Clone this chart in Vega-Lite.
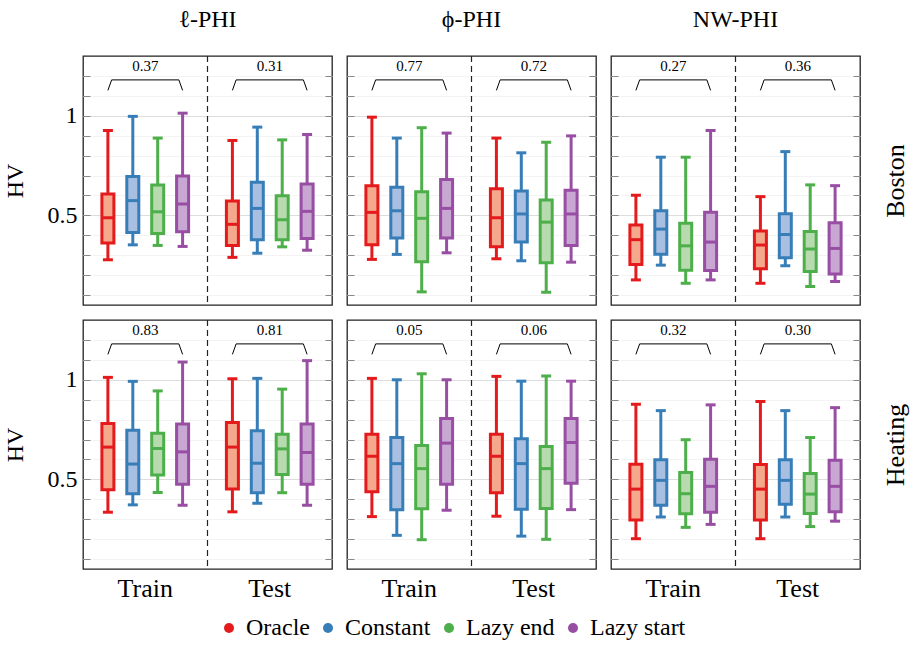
{
"$schema": "https://vega.github.io/schema/vega-lite/v6.json",
"background": "white",
"padding": {"left": 2, "top": 7, "right": 5, "bottom": 5},
"datasets": {
"boxes": [
{"ds":"Boston","m":"l","s":"Train","a":"Oracle","lo":0.277,"q1":0.361,"md":0.488,"q3":0.607,"hi":0.926},
{"ds":"Boston","m":"l","s":"Train","a":"Constant","lo":0.352,"q1":0.414,"md":0.574,"q3":0.695,"hi":0.997},
{"ds":"Boston","m":"l","s":"Train","a":"Lazy end","lo":0.349,"q1":0.409,"md":0.518,"q3":0.653,"hi":0.888},
{"ds":"Boston","m":"l","s":"Train","a":"Lazy start","lo":0.344,"q1":0.418,"md":0.557,"q3":0.698,"hi":1.013},
{"ds":"Boston","m":"l","s":"Test","a":"Oracle","lo":0.289,"q1":0.349,"md":0.455,"q3":0.572,"hi":0.876},
{"ds":"Boston","m":"l","s":"Test","a":"Constant","lo":0.31,"q1":0.378,"md":0.535,"q3":0.666,"hi":0.943},
{"ds":"Boston","m":"l","s":"Test","a":"Lazy end","lo":0.342,"q1":0.378,"md":0.478,"q3":0.599,"hi":0.879},
{"ds":"Boston","m":"l","s":"Test","a":"Lazy start","lo":0.325,"q1":0.384,"md":0.52,"q3":0.658,"hi":0.906},
{"ds":"Boston","m":"p","s":"Train","a":"Oracle","lo":0.279,"q1":0.352,"md":0.515,"q3":0.649,"hi":0.993},
{"ds":"Boston","m":"p","s":"Train","a":"Constant","lo":0.304,"q1":0.386,"md":0.523,"q3":0.641,"hi":0.888},
{"ds":"Boston","m":"p","s":"Train","a":"Lazy end","lo":0.116,"q1":0.267,"md":0.485,"q3":0.619,"hi":0.94},
{"ds":"Boston","m":"p","s":"Train","a":"Lazy start","lo":0.312,"q1":0.386,"md":0.535,"q3":0.68,"hi":0.913},
{"ds":"Boston","m":"p","s":"Test","a":"Oracle","lo":0.282,"q1":0.342,"md":0.488,"q3":0.633,"hi":0.888},
{"ds":"Boston","m":"p","s":"Test","a":"Constant","lo":0.272,"q1":0.366,"md":0.507,"q3":0.622,"hi":0.814},
{"ds":"Boston","m":"p","s":"Test","a":"Lazy end","lo":0.114,"q1":0.262,"md":0.466,"q3":0.577,"hi":0.867},
{"ds":"Boston","m":"p","s":"Test","a":"Lazy start","lo":0.265,"q1":0.349,"md":0.507,"q3":0.626,"hi":0.899},
{"ds":"Boston","m":"n","s":"Train","a":"Oracle","lo":0.176,"q1":0.253,"md":0.378,"q3":0.451,"hi":0.601},
{"ds":"Boston","m":"n","s":"Train","a":"Constant","lo":0.25,"q1":0.305,"md":0.431,"q3":0.523,"hi":0.792},
{"ds":"Boston","m":"n","s":"Train","a":"Lazy end","lo":0.159,"q1":0.225,"md":0.347,"q3":0.46,"hi":0.792},
{"ds":"Boston","m":"n","s":"Train","a":"Lazy start","lo":0.176,"q1":0.223,"md":0.366,"q3":0.515,"hi":0.926},
{"ds":"Boston","m":"n","s":"Test","a":"Oracle","lo":0.159,"q1":0.232,"md":0.351,"q3":0.421,"hi":0.594},
{"ds":"Boston","m":"n","s":"Test","a":"Constant","lo":0.247,"q1":0.287,"md":0.404,"q3":0.508,"hi":0.82},
{"ds":"Boston","m":"n","s":"Test","a":"Lazy end","lo":0.143,"q1":0.218,"md":0.331,"q3":0.419,"hi":0.653},
{"ds":"Boston","m":"n","s":"Test","a":"Lazy start","lo":0.168,"q1":0.205,"md":0.334,"q3":0.463,"hi":0.649},
{"ds":"Heating","m":"l","s":"Train","a":"Oracle","lo":0.335,"q1":0.448,"md":0.662,"q3":0.781,"hi":1.012},
{"ds":"Heating","m":"l","s":"Train","a":"Constant","lo":0.372,"q1":0.428,"md":0.577,"q3":0.746,"hi":0.992},
{"ds":"Heating","m":"l","s":"Train","a":"Lazy end","lo":0.434,"q1":0.522,"md":0.655,"q3":0.732,"hi":0.944},
{"ds":"Heating","m":"l","s":"Train","a":"Lazy start","lo":0.37,"q1":0.475,"md":0.638,"q3":0.778,"hi":1.089},
{"ds":"Heating","m":"l","s":"Test","a":"Oracle","lo":0.337,"q1":0.451,"md":0.662,"q3":0.785,"hi":1.005},
{"ds":"Heating","m":"l","s":"Test","a":"Constant","lo":0.38,"q1":0.433,"md":0.581,"q3":0.744,"hi":1.007},
{"ds":"Heating","m":"l","s":"Test","a":"Lazy end","lo":0.433,"q1":0.524,"md":0.653,"q3":0.727,"hi":0.953},
{"ds":"Heating","m":"l","s":"Test","a":"Lazy start","lo":0.37,"q1":0.475,"md":0.635,"q3":0.778,"hi":1.096},
{"ds":"Heating","m":"p","s":"Train","a":"Oracle","lo":0.313,"q1":0.438,"md":0.616,"q3":0.727,"hi":1.007},
{"ds":"Heating","m":"p","s":"Train","a":"Constant","lo":0.219,"q1":0.348,"md":0.579,"q3":0.71,"hi":1.0},
{"ds":"Heating","m":"p","s":"Train","a":"Lazy end","lo":0.197,"q1":0.352,"md":0.554,"q3":0.67,"hi":1.03},
{"ds":"Heating","m":"p","s":"Train","a":"Lazy start","lo":0.345,"q1":0.475,"md":0.682,"q3":0.806,"hi":1.0},
{"ds":"Heating","m":"p","s":"Test","a":"Oracle","lo":0.315,"q1":0.433,"md":0.616,"q3":0.727,"hi":1.017},
{"ds":"Heating","m":"p","s":"Test","a":"Constant","lo":0.215,"q1":0.35,"md":0.579,"q3":0.704,"hi":0.993},
{"ds":"Heating","m":"p","s":"Test","a":"Lazy end","lo":0.199,"q1":0.354,"md":0.554,"q3":0.665,"hi":1.019},
{"ds":"Heating","m":"p","s":"Test","a":"Lazy start","lo":0.348,"q1":0.481,"md":0.685,"q3":0.806,"hi":0.993},
{"ds":"Heating","m":"n","s":"Train","a":"Oracle","lo":0.202,"q1":0.296,"md":0.451,"q3":0.576,"hi":0.877},
{"ds":"Heating","m":"n","s":"Train","a":"Constant","lo":0.311,"q1":0.37,"md":0.495,"q3":0.598,"hi":0.845},
{"ds":"Heating","m":"n","s":"Train","a":"Lazy end","lo":0.259,"q1":0.327,"md":0.428,"q3":0.534,"hi":0.699},
{"ds":"Heating","m":"n","s":"Train","a":"Lazy start","lo":0.274,"q1":0.335,"md":0.465,"q3":0.601,"hi":0.874},
{"ds":"Heating","m":"n","s":"Test","a":"Oracle","lo":0.202,"q1":0.296,"md":0.451,"q3":0.574,"hi":0.891},
{"ds":"Heating","m":"n","s":"Test","a":"Constant","lo":0.311,"q1":0.375,"md":0.495,"q3":0.598,"hi":0.845},
{"ds":"Heating","m":"n","s":"Test","a":"Lazy end","lo":0.263,"q1":0.328,"md":0.426,"q3":0.53,"hi":0.71},
{"ds":"Heating","m":"n","s":"Test","a":"Lazy start","lo":0.29,"q1":0.338,"md":0.465,"q3":0.596,"hi":0.86}
],
"pvals": [
{"ds":"Boston","m":"l","s":"Train","p":"0.37"},
{"ds":"Boston","m":"l","s":"Test","p":"0.31"},
{"ds":"Boston","m":"p","s":"Train","p":"0.77"},
{"ds":"Boston","m":"p","s":"Test","p":"0.72"},
{"ds":"Boston","m":"n","s":"Train","p":"0.27"},
{"ds":"Boston","m":"n","s":"Test","p":"0.36"},
{"ds":"Heating","m":"l","s":"Train","p":"0.83"},
{"ds":"Heating","m":"l","s":"Test","p":"0.81"},
{"ds":"Heating","m":"p","s":"Train","p":"0.05"},
{"ds":"Heating","m":"p","s":"Test","p":"0.06"},
{"ds":"Heating","m":"n","s":"Train","p":"0.32"},
{"ds":"Heating","m":"n","s":"Test","p":"0.30"}
]
},
"columns": 3,
"bounds": "flush",
"spacing": {"row": 15, "column": 15},
"concat": [
{
"width": 249, "height": 249, "title": "ℓ-PHI",
"data": {"name": "boxes"},
"transform": [{"filter": "datum.ds=='Boston' && datum.m=='l'"}],
"layer": [
{"mark": {"type": "tick", "thickness": 3, "size": 10, "opacity": 1},
 "encoding": {
  "x": {"field": "s", "type": "nominal", "scale": {"domain": ["Train","Test"], "paddingInner": 0, "paddingOuter": 0}, "title": null, "axis": null},
  "xOffset": {"field": "a", "type": "nominal", "scale": {"domain": ["Oracle","Constant","Lazy end","Lazy start"], "paddingInner": 0, "paddingOuter": 0.5}},
  "y": {"field": "lo", "type": "quantitative", "scale": {"domain": [0.05,1.3], "nice": false, "zero": false},
        "axis": {"title": "HV", "values": [0.1,0.2,0.3,0.4,0.5,0.6,0.7,0.8,0.9,1,1.1,1.2], "labelExpr": "datum.value == 1 ? '1' : datum.value == 0.5 ? '0.5' : ''", "grid": true, "gridColor": {"condition": {"test": "datum.value == 1 || datum.value == 0.5", "value": "#dddddd"}, "value": "#f3f3f3"}, "labelPadding": 13, "titlePadding": 20}},
  "color": {"field": "a", "type": "nominal", "scale": {"domain": ["Oracle","Constant","Lazy end","Lazy start"], "range": ["#e41a1c","#377eb8","#4daf4a","#984ea3"]}, "title": null, "legend": {"symbolType": "circle", "labelFont": "Liberation Serif", "orient": "none", "direction": "horizontal", "legendX": 134, "legendY": 560}}}},
{"mark": {"type": "tick", "thickness": 3, "size": 10, "opacity": 1},
 "encoding": {
  "x": {"field": "s", "type": "nominal", "scale": {"domain": ["Train","Test"], "paddingInner": 0, "paddingOuter": 0}, "title": null, "axis": null},
  "xOffset": {"field": "a", "type": "nominal", "scale": {"domain": ["Oracle","Constant","Lazy end","Lazy start"], "paddingInner": 0, "paddingOuter": 0.5}},
  "y": {"field": "hi", "type": "quantitative", "scale": {"domain": [0.05,1.3], "nice": false, "zero": false},
        "axis": {"orient": "right", "title": null, "labels": false, "grid": false, "values": [0.1,0.2,0.3,0.4,0.5,0.6,0.7,0.8,0.9,1,1.1,1.2]}},
  "color": {"field": "a", "type": "nominal", "scale": {"domain": ["Oracle","Constant","Lazy end","Lazy start"], "range": ["#e41a1c","#377eb8","#4daf4a","#984ea3"]}, "title": null, "legend": {"symbolType": "circle", "labelFont": "Liberation Serif", "orient": "none", "direction": "horizontal", "legendX": 134, "legendY": 560}}}},
{"mark": {"type": "rule", "strokeWidth": 3},
 "encoding": {
  "x": {"field": "s", "type": "nominal", "scale": {"domain": ["Train","Test"], "paddingInner": 0, "paddingOuter": 0}, "title": null, "axis": null},
  "xOffset": {"field": "a", "type": "nominal", "scale": {"domain": ["Oracle","Constant","Lazy end","Lazy start"], "paddingInner": 0, "paddingOuter": 0.5}},
  "y": {"field": "lo", "type": "quantitative", "scale": {"domain": [0.05,1.3], "nice": false, "zero": false}, "axis": null},
  "y2": {"field": "hi"},
  "stroke": {"field": "a", "type": "nominal", "scale": {"domain": ["Oracle","Constant","Lazy end","Lazy start"], "range": ["#e41a1c","#377eb8","#4daf4a","#984ea3"]}, "legend": null}}},
{"mark": {"type": "bar", "width": 12, "strokeWidth": 3},
 "encoding": {
  "x": {"field": "s", "type": "nominal", "scale": {"domain": ["Train","Test"], "paddingInner": 0, "paddingOuter": 0}, "title": null, "axis": null},
  "xOffset": {"field": "a", "type": "nominal", "scale": {"domain": ["Oracle","Constant","Lazy end","Lazy start"], "paddingInner": 0, "paddingOuter": 0.5}},
  "y": {"field": "q1", "type": "quantitative", "scale": {"domain": [0.05,1.3], "nice": false, "zero": false}, "axis": null},
  "y2": {"field": "q3"},
  "fill": {"field": "a", "type": "nominal", "scale": {"domain": ["Oracle","Constant","Lazy end","Lazy start"], "range": ["#f4a88c","#a9bfe1","#b7dbae","#c8a7d3"]}, "legend": null},
  "stroke": {"field": "a", "type": "nominal", "scale": {"domain": ["Oracle","Constant","Lazy end","Lazy start"], "range": ["#e41a1c","#377eb8","#4daf4a","#984ea3"]}, "legend": null}}},
{"mark": {"type": "tick", "thickness": 3, "size": 12, "opacity": 1},
 "encoding": {
  "x": {"field": "s", "type": "nominal", "scale": {"domain": ["Train","Test"], "paddingInner": 0, "paddingOuter": 0}, "title": null, "axis": null},
  "xOffset": {"field": "a", "type": "nominal", "scale": {"domain": ["Oracle","Constant","Lazy end","Lazy start"], "paddingInner": 0, "paddingOuter": 0.5}},
  "y": {"field": "md", "type": "quantitative", "scale": {"domain": [0.05,1.3], "nice": false, "zero": false}, "axis": null},
  "color": {"field": "a", "type": "nominal", "scale": {"domain": ["Oracle","Constant","Lazy end","Lazy start"], "range": ["#e41a1c","#377eb8","#4daf4a","#984ea3"]}, "title": null, "legend": {"symbolType": "circle", "labelFont": "Liberation Serif", "orient": "none", "direction": "horizontal", "legendX": 134, "legendY": 560}}}},
{"data": {"values": [{}]},
 "mark": {"type": "rule", "strokeDash": [6,4], "color": "#222222", "strokeWidth": 1.2},
 "encoding": {"x": {"datum": "Test", "type": "nominal", "bandPosition": 0, "scale": {"domain": ["Train","Test"], "paddingInner": 0, "paddingOuter": 0}, "title": null, "axis": null}}},
{"data": {"name": "pvals"},
 "transform": [{"filter": "datum.ds=='Boston' && datum.m=='l'"}],
 "mark": {"type": "point", "shape": "M -1 0.28 L -0.9 0 L 0.9 0 L 1 0.28", "size": 5580, "filled": false, "stroke": "#000000", "strokeWidth": 1, "opacity": 1},
 "encoding": {
  "x": {"field": "s", "type": "nominal", "scale": {"domain": ["Train","Test"], "paddingInner": 0, "paddingOuter": 0}, "title": null, "axis": null},
  "y": {"datum": 1.18, "type": "quantitative", "scale": {"domain": [0.05,1.3], "nice": false, "zero": false}, "axis": null}}},
{"data": {"name": "pvals"},
 "transform": [{"filter": "datum.ds=='Boston' && datum.m=='l'"}],
 "mark": {"type": "text", "font": "Liberation Serif", "fontSize": 15, "baseline": "middle", "color": "#000000"},
 "encoding": {
  "x": {"field": "s", "type": "nominal", "scale": {"domain": ["Train","Test"], "paddingInner": 0, "paddingOuter": 0}, "title": null, "axis": null},
  "y": {"datum": 1.25, "type": "quantitative", "scale": {"domain": [0.05,1.3], "nice": false, "zero": false}, "axis": null},
  "text": {"field": "p", "type": "nominal"}}}
],
"resolve": {"axis": {"y": "independent"}}
},
{
"width": 249, "height": 249, "title": "ϕ-PHI",
"data": {"name": "boxes"},
"transform": [{"filter": "datum.ds=='Boston' && datum.m=='p'"}],
"layer": [
{"mark": {"type": "tick", "thickness": 3, "size": 10, "opacity": 1},
 "encoding": {
  "x": {"field": "s", "type": "nominal", "scale": {"domain": ["Train","Test"], "paddingInner": 0, "paddingOuter": 0}, "title": null, "axis": null},
  "xOffset": {"field": "a", "type": "nominal", "scale": {"domain": ["Oracle","Constant","Lazy end","Lazy start"], "paddingInner": 0, "paddingOuter": 0.5}},
  "y": {"field": "lo", "type": "quantitative", "scale": {"domain": [0.05,1.3], "nice": false, "zero": false},
        "axis": {"title": null, "labels": false, "values": [0.1,0.2,0.3,0.4,0.5,0.6,0.7,0.8,0.9,1,1.1,1.2], "grid": true, "gridColor": {"condition": {"test": "datum.value == 1 || datum.value == 0.5", "value": "#dddddd"}, "value": "#f3f3f3"}}},
  "color": {"field": "a", "type": "nominal", "scale": {"domain": ["Oracle","Constant","Lazy end","Lazy start"], "range": ["#e41a1c","#377eb8","#4daf4a","#984ea3"]}, "title": null, "legend": {"symbolType": "circle", "labelFont": "Liberation Serif", "orient": "none", "direction": "horizontal", "legendX": 134, "legendY": 560}}}},
{"mark": {"type": "tick", "thickness": 3, "size": 10, "opacity": 1},
 "encoding": {
  "x": {"field": "s", "type": "nominal", "scale": {"domain": ["Train","Test"], "paddingInner": 0, "paddingOuter": 0}, "title": null, "axis": null},
  "xOffset": {"field": "a", "type": "nominal", "scale": {"domain": ["Oracle","Constant","Lazy end","Lazy start"], "paddingInner": 0, "paddingOuter": 0.5}},
  "y": {"field": "hi", "type": "quantitative", "scale": {"domain": [0.05,1.3], "nice": false, "zero": false},
        "axis": {"orient": "right", "title": null, "labels": false, "grid": false, "values": [0.1,0.2,0.3,0.4,0.5,0.6,0.7,0.8,0.9,1,1.1,1.2]}},
  "color": {"field": "a", "type": "nominal", "scale": {"domain": ["Oracle","Constant","Lazy end","Lazy start"], "range": ["#e41a1c","#377eb8","#4daf4a","#984ea3"]}, "title": null, "legend": {"symbolType": "circle", "labelFont": "Liberation Serif", "orient": "none", "direction": "horizontal", "legendX": 134, "legendY": 560}}}},
{"mark": {"type": "rule", "strokeWidth": 3},
 "encoding": {
  "x": {"field": "s", "type": "nominal", "scale": {"domain": ["Train","Test"], "paddingInner": 0, "paddingOuter": 0}, "title": null, "axis": null},
  "xOffset": {"field": "a", "type": "nominal", "scale": {"domain": ["Oracle","Constant","Lazy end","Lazy start"], "paddingInner": 0, "paddingOuter": 0.5}},
  "y": {"field": "lo", "type": "quantitative", "scale": {"domain": [0.05,1.3], "nice": false, "zero": false}, "axis": null},
  "y2": {"field": "hi"},
  "stroke": {"field": "a", "type": "nominal", "scale": {"domain": ["Oracle","Constant","Lazy end","Lazy start"], "range": ["#e41a1c","#377eb8","#4daf4a","#984ea3"]}, "legend": null}}},
{"mark": {"type": "bar", "width": 12, "strokeWidth": 3},
 "encoding": {
  "x": {"field": "s", "type": "nominal", "scale": {"domain": ["Train","Test"], "paddingInner": 0, "paddingOuter": 0}, "title": null, "axis": null},
  "xOffset": {"field": "a", "type": "nominal", "scale": {"domain": ["Oracle","Constant","Lazy end","Lazy start"], "paddingInner": 0, "paddingOuter": 0.5}},
  "y": {"field": "q1", "type": "quantitative", "scale": {"domain": [0.05,1.3], "nice": false, "zero": false}, "axis": null},
  "y2": {"field": "q3"},
  "fill": {"field": "a", "type": "nominal", "scale": {"domain": ["Oracle","Constant","Lazy end","Lazy start"], "range": ["#f4a88c","#a9bfe1","#b7dbae","#c8a7d3"]}, "legend": null},
  "stroke": {"field": "a", "type": "nominal", "scale": {"domain": ["Oracle","Constant","Lazy end","Lazy start"], "range": ["#e41a1c","#377eb8","#4daf4a","#984ea3"]}, "legend": null}}},
{"mark": {"type": "tick", "thickness": 3, "size": 12, "opacity": 1},
 "encoding": {
  "x": {"field": "s", "type": "nominal", "scale": {"domain": ["Train","Test"], "paddingInner": 0, "paddingOuter": 0}, "title": null, "axis": null},
  "xOffset": {"field": "a", "type": "nominal", "scale": {"domain": ["Oracle","Constant","Lazy end","Lazy start"], "paddingInner": 0, "paddingOuter": 0.5}},
  "y": {"field": "md", "type": "quantitative", "scale": {"domain": [0.05,1.3], "nice": false, "zero": false}, "axis": null},
  "color": {"field": "a", "type": "nominal", "scale": {"domain": ["Oracle","Constant","Lazy end","Lazy start"], "range": ["#e41a1c","#377eb8","#4daf4a","#984ea3"]}, "title": null, "legend": {"symbolType": "circle", "labelFont": "Liberation Serif", "orient": "none", "direction": "horizontal", "legendX": 134, "legendY": 560}}}},
{"data": {"values": [{}]},
 "mark": {"type": "rule", "strokeDash": [6,4], "color": "#222222", "strokeWidth": 1.2},
 "encoding": {"x": {"datum": "Test", "type": "nominal", "bandPosition": 0, "scale": {"domain": ["Train","Test"], "paddingInner": 0, "paddingOuter": 0}, "title": null, "axis": null}}},
{"data": {"name": "pvals"},
 "transform": [{"filter": "datum.ds=='Boston' && datum.m=='p'"}],
 "mark": {"type": "point", "shape": "M -1 0.28 L -0.9 0 L 0.9 0 L 1 0.28", "size": 5580, "filled": false, "stroke": "#000000", "strokeWidth": 1, "opacity": 1},
 "encoding": {
  "x": {"field": "s", "type": "nominal", "scale": {"domain": ["Train","Test"], "paddingInner": 0, "paddingOuter": 0}, "title": null, "axis": null},
  "y": {"datum": 1.18, "type": "quantitative", "scale": {"domain": [0.05,1.3], "nice": false, "zero": false}, "axis": null}}},
{"data": {"name": "pvals"},
 "transform": [{"filter": "datum.ds=='Boston' && datum.m=='p'"}],
 "mark": {"type": "text", "font": "Liberation Serif", "fontSize": 15, "baseline": "middle", "color": "#000000"},
 "encoding": {
  "x": {"field": "s", "type": "nominal", "scale": {"domain": ["Train","Test"], "paddingInner": 0, "paddingOuter": 0}, "title": null, "axis": null},
  "y": {"datum": 1.25, "type": "quantitative", "scale": {"domain": [0.05,1.3], "nice": false, "zero": false}, "axis": null},
  "text": {"field": "p", "type": "nominal"}}}
],
"resolve": {"axis": {"y": "independent"}}
},
{
"width": 249, "height": 249, "title": "NW-PHI",
"data": {"name": "boxes"},
"transform": [{"filter": "datum.ds=='Boston' && datum.m=='n'"}],
"layer": [
{"mark": {"type": "tick", "thickness": 3, "size": 10, "opacity": 1},
 "encoding": {
  "x": {"field": "s", "type": "nominal", "scale": {"domain": ["Train","Test"], "paddingInner": 0, "paddingOuter": 0}, "title": null, "axis": null},
  "xOffset": {"field": "a", "type": "nominal", "scale": {"domain": ["Oracle","Constant","Lazy end","Lazy start"], "paddingInner": 0, "paddingOuter": 0.5}},
  "y": {"field": "lo", "type": "quantitative", "scale": {"domain": [0.05,1.3], "nice": false, "zero": false},
        "axis": {"title": null, "labels": false, "values": [0.1,0.2,0.3,0.4,0.5,0.6,0.7,0.8,0.9,1,1.1,1.2], "grid": true, "gridColor": {"condition": {"test": "datum.value == 1 || datum.value == 0.5", "value": "#dddddd"}, "value": "#f3f3f3"}}},
  "color": {"field": "a", "type": "nominal", "scale": {"domain": ["Oracle","Constant","Lazy end","Lazy start"], "range": ["#e41a1c","#377eb8","#4daf4a","#984ea3"]}, "title": null, "legend": {"symbolType": "circle", "labelFont": "Liberation Serif", "orient": "none", "direction": "horizontal", "legendX": 134, "legendY": 560}}}},
{"mark": {"type": "tick", "thickness": 3, "size": 10, "opacity": 1},
 "encoding": {
  "x": {"field": "s", "type": "nominal", "scale": {"domain": ["Train","Test"], "paddingInner": 0, "paddingOuter": 0}, "title": null, "axis": null},
  "xOffset": {"field": "a", "type": "nominal", "scale": {"domain": ["Oracle","Constant","Lazy end","Lazy start"], "paddingInner": 0, "paddingOuter": 0.5}},
  "y": {"field": "hi", "type": "quantitative", "scale": {"domain": [0.05,1.3], "nice": false, "zero": false},
        "axis": {"orient": "right", "title": "Boston", "titleAngle": 270, "titlePadding": 48, "titleFontSize": 26, "labels": false, "grid": false, "values": [0.1,0.2,0.3,0.4,0.5,0.6,0.7,0.8,0.9,1,1.1,1.2]}},
  "color": {"field": "a", "type": "nominal", "scale": {"domain": ["Oracle","Constant","Lazy end","Lazy start"], "range": ["#e41a1c","#377eb8","#4daf4a","#984ea3"]}, "title": null, "legend": {"symbolType": "circle", "labelFont": "Liberation Serif", "orient": "none", "direction": "horizontal", "legendX": 134, "legendY": 560}}}},
{"mark": {"type": "rule", "strokeWidth": 3},
 "encoding": {
  "x": {"field": "s", "type": "nominal", "scale": {"domain": ["Train","Test"], "paddingInner": 0, "paddingOuter": 0}, "title": null, "axis": null},
  "xOffset": {"field": "a", "type": "nominal", "scale": {"domain": ["Oracle","Constant","Lazy end","Lazy start"], "paddingInner": 0, "paddingOuter": 0.5}},
  "y": {"field": "lo", "type": "quantitative", "scale": {"domain": [0.05,1.3], "nice": false, "zero": false}, "axis": null},
  "y2": {"field": "hi"},
  "stroke": {"field": "a", "type": "nominal", "scale": {"domain": ["Oracle","Constant","Lazy end","Lazy start"], "range": ["#e41a1c","#377eb8","#4daf4a","#984ea3"]}, "legend": null}}},
{"mark": {"type": "bar", "width": 12, "strokeWidth": 3},
 "encoding": {
  "x": {"field": "s", "type": "nominal", "scale": {"domain": ["Train","Test"], "paddingInner": 0, "paddingOuter": 0}, "title": null, "axis": null},
  "xOffset": {"field": "a", "type": "nominal", "scale": {"domain": ["Oracle","Constant","Lazy end","Lazy start"], "paddingInner": 0, "paddingOuter": 0.5}},
  "y": {"field": "q1", "type": "quantitative", "scale": {"domain": [0.05,1.3], "nice": false, "zero": false}, "axis": null},
  "y2": {"field": "q3"},
  "fill": {"field": "a", "type": "nominal", "scale": {"domain": ["Oracle","Constant","Lazy end","Lazy start"], "range": ["#f4a88c","#a9bfe1","#b7dbae","#c8a7d3"]}, "legend": null},
  "stroke": {"field": "a", "type": "nominal", "scale": {"domain": ["Oracle","Constant","Lazy end","Lazy start"], "range": ["#e41a1c","#377eb8","#4daf4a","#984ea3"]}, "legend": null}}},
{"mark": {"type": "tick", "thickness": 3, "size": 12, "opacity": 1},
 "encoding": {
  "x": {"field": "s", "type": "nominal", "scale": {"domain": ["Train","Test"], "paddingInner": 0, "paddingOuter": 0}, "title": null, "axis": null},
  "xOffset": {"field": "a", "type": "nominal", "scale": {"domain": ["Oracle","Constant","Lazy end","Lazy start"], "paddingInner": 0, "paddingOuter": 0.5}},
  "y": {"field": "md", "type": "quantitative", "scale": {"domain": [0.05,1.3], "nice": false, "zero": false}, "axis": null},
  "color": {"field": "a", "type": "nominal", "scale": {"domain": ["Oracle","Constant","Lazy end","Lazy start"], "range": ["#e41a1c","#377eb8","#4daf4a","#984ea3"]}, "title": null, "legend": {"symbolType": "circle", "labelFont": "Liberation Serif", "orient": "none", "direction": "horizontal", "legendX": 134, "legendY": 560}}}},
{"data": {"values": [{}]},
 "mark": {"type": "rule", "strokeDash": [6,4], "color": "#222222", "strokeWidth": 1.2},
 "encoding": {"x": {"datum": "Test", "type": "nominal", "bandPosition": 0, "scale": {"domain": ["Train","Test"], "paddingInner": 0, "paddingOuter": 0}, "title": null, "axis": null}}},
{"data": {"name": "pvals"},
 "transform": [{"filter": "datum.ds=='Boston' && datum.m=='n'"}],
 "mark": {"type": "point", "shape": "M -1 0.28 L -0.9 0 L 0.9 0 L 1 0.28", "size": 5580, "filled": false, "stroke": "#000000", "strokeWidth": 1, "opacity": 1},
 "encoding": {
  "x": {"field": "s", "type": "nominal", "scale": {"domain": ["Train","Test"], "paddingInner": 0, "paddingOuter": 0}, "title": null, "axis": null},
  "y": {"datum": 1.18, "type": "quantitative", "scale": {"domain": [0.05,1.3], "nice": false, "zero": false}, "axis": null}}},
{"data": {"name": "pvals"},
 "transform": [{"filter": "datum.ds=='Boston' && datum.m=='n'"}],
 "mark": {"type": "text", "font": "Liberation Serif", "fontSize": 15, "baseline": "middle", "color": "#000000"},
 "encoding": {
  "x": {"field": "s", "type": "nominal", "scale": {"domain": ["Train","Test"], "paddingInner": 0, "paddingOuter": 0}, "title": null, "axis": null},
  "y": {"datum": 1.25, "type": "quantitative", "scale": {"domain": [0.05,1.3], "nice": false, "zero": false}, "axis": null},
  "text": {"field": "p", "type": "nominal"}}}
],
"resolve": {"axis": {"y": "independent"}}
},
{
"width": 249, "height": 249,
"data": {"name": "boxes"},
"transform": [{"filter": "datum.ds=='Heating' && datum.m=='l'"}],
"layer": [
{"mark": {"type": "tick", "thickness": 3, "size": 10, "opacity": 1},
 "encoding": {
  "x": {"field": "s", "type": "nominal", "scale": {"domain": ["Train","Test"], "paddingInner": 0, "paddingOuter": 0}, "title": null},
  "xOffset": {"field": "a", "type": "nominal", "scale": {"domain": ["Oracle","Constant","Lazy end","Lazy start"], "paddingInner": 0, "paddingOuter": 0.5}},
  "y": {"field": "lo", "type": "quantitative", "scale": {"domain": [0.05,1.3], "nice": false, "zero": false},
        "axis": {"title": "HV", "values": [0.1,0.2,0.3,0.4,0.5,0.6,0.7,0.8,0.9,1,1.1,1.2], "labelExpr": "datum.value == 1 ? '1' : datum.value == 0.5 ? '0.5' : ''", "grid": true, "gridColor": {"condition": {"test": "datum.value == 1 || datum.value == 0.5", "value": "#dddddd"}, "value": "#f3f3f3"}, "labelPadding": 13, "titlePadding": 20}},
  "color": {"field": "a", "type": "nominal", "scale": {"domain": ["Oracle","Constant","Lazy end","Lazy start"], "range": ["#e41a1c","#377eb8","#4daf4a","#984ea3"]}, "title": null, "legend": {"symbolType": "circle", "labelFont": "Liberation Serif", "orient": "none", "direction": "horizontal", "legendX": 134, "legendY": 560}}}},
{"mark": {"type": "tick", "thickness": 3, "size": 10, "opacity": 1},
 "encoding": {
  "x": {"field": "s", "type": "nominal", "scale": {"domain": ["Train","Test"], "paddingInner": 0, "paddingOuter": 0}, "title": null},
  "xOffset": {"field": "a", "type": "nominal", "scale": {"domain": ["Oracle","Constant","Lazy end","Lazy start"], "paddingInner": 0, "paddingOuter": 0.5}},
  "y": {"field": "hi", "type": "quantitative", "scale": {"domain": [0.05,1.3], "nice": false, "zero": false},
        "axis": {"orient": "right", "title": null, "labels": false, "grid": false, "values": [0.1,0.2,0.3,0.4,0.5,0.6,0.7,0.8,0.9,1,1.1,1.2]}},
  "color": {"field": "a", "type": "nominal", "scale": {"domain": ["Oracle","Constant","Lazy end","Lazy start"], "range": ["#e41a1c","#377eb8","#4daf4a","#984ea3"]}, "title": null, "legend": {"symbolType": "circle", "labelFont": "Liberation Serif", "orient": "none", "direction": "horizontal", "legendX": 134, "legendY": 560}}}},
{"mark": {"type": "rule", "strokeWidth": 3},
 "encoding": {
  "x": {"field": "s", "type": "nominal", "scale": {"domain": ["Train","Test"], "paddingInner": 0, "paddingOuter": 0}, "title": null},
  "xOffset": {"field": "a", "type": "nominal", "scale": {"domain": ["Oracle","Constant","Lazy end","Lazy start"], "paddingInner": 0, "paddingOuter": 0.5}},
  "y": {"field": "lo", "type": "quantitative", "scale": {"domain": [0.05,1.3], "nice": false, "zero": false}, "axis": null},
  "y2": {"field": "hi"},
  "stroke": {"field": "a", "type": "nominal", "scale": {"domain": ["Oracle","Constant","Lazy end","Lazy start"], "range": ["#e41a1c","#377eb8","#4daf4a","#984ea3"]}, "legend": null}}},
{"mark": {"type": "bar", "width": 12, "strokeWidth": 3},
 "encoding": {
  "x": {"field": "s", "type": "nominal", "scale": {"domain": ["Train","Test"], "paddingInner": 0, "paddingOuter": 0}, "title": null},
  "xOffset": {"field": "a", "type": "nominal", "scale": {"domain": ["Oracle","Constant","Lazy end","Lazy start"], "paddingInner": 0, "paddingOuter": 0.5}},
  "y": {"field": "q1", "type": "quantitative", "scale": {"domain": [0.05,1.3], "nice": false, "zero": false}, "axis": null},
  "y2": {"field": "q3"},
  "fill": {"field": "a", "type": "nominal", "scale": {"domain": ["Oracle","Constant","Lazy end","Lazy start"], "range": ["#f4a88c","#a9bfe1","#b7dbae","#c8a7d3"]}, "legend": null},
  "stroke": {"field": "a", "type": "nominal", "scale": {"domain": ["Oracle","Constant","Lazy end","Lazy start"], "range": ["#e41a1c","#377eb8","#4daf4a","#984ea3"]}, "legend": null}}},
{"mark": {"type": "tick", "thickness": 3, "size": 12, "opacity": 1},
 "encoding": {
  "x": {"field": "s", "type": "nominal", "scale": {"domain": ["Train","Test"], "paddingInner": 0, "paddingOuter": 0}, "title": null},
  "xOffset": {"field": "a", "type": "nominal", "scale": {"domain": ["Oracle","Constant","Lazy end","Lazy start"], "paddingInner": 0, "paddingOuter": 0.5}},
  "y": {"field": "md", "type": "quantitative", "scale": {"domain": [0.05,1.3], "nice": false, "zero": false}, "axis": null},
  "color": {"field": "a", "type": "nominal", "scale": {"domain": ["Oracle","Constant","Lazy end","Lazy start"], "range": ["#e41a1c","#377eb8","#4daf4a","#984ea3"]}, "title": null, "legend": {"symbolType": "circle", "labelFont": "Liberation Serif", "orient": "none", "direction": "horizontal", "legendX": 134, "legendY": 560}}}},
{"data": {"values": [{}]},
 "mark": {"type": "rule", "strokeDash": [6,4], "color": "#222222", "strokeWidth": 1.2},
 "encoding": {"x": {"datum": "Test", "type": "nominal", "bandPosition": 0, "scale": {"domain": ["Train","Test"], "paddingInner": 0, "paddingOuter": 0}, "title": null}}},
{"data": {"name": "pvals"},
 "transform": [{"filter": "datum.ds=='Heating' && datum.m=='l'"}],
 "mark": {"type": "point", "shape": "M -1 0.28 L -0.9 0 L 0.9 0 L 1 0.28", "size": 5580, "filled": false, "stroke": "#000000", "strokeWidth": 1, "opacity": 1},
 "encoding": {
  "x": {"field": "s", "type": "nominal", "scale": {"domain": ["Train","Test"], "paddingInner": 0, "paddingOuter": 0}, "title": null},
  "y": {"datum": 1.18, "type": "quantitative", "scale": {"domain": [0.05,1.3], "nice": false, "zero": false}, "axis": null}}},
{"data": {"name": "pvals"},
 "transform": [{"filter": "datum.ds=='Heating' && datum.m=='l'"}],
 "mark": {"type": "text", "font": "Liberation Serif", "fontSize": 15, "baseline": "middle", "color": "#000000"},
 "encoding": {
  "x": {"field": "s", "type": "nominal", "scale": {"domain": ["Train","Test"], "paddingInner": 0, "paddingOuter": 0}, "title": null},
  "y": {"datum": 1.25, "type": "quantitative", "scale": {"domain": [0.05,1.3], "nice": false, "zero": false}, "axis": null},
  "text": {"field": "p", "type": "nominal"}}}
],
"resolve": {"axis": {"y": "independent"}}
},
{
"width": 249, "height": 249,
"data": {"name": "boxes"},
"transform": [{"filter": "datum.ds=='Heating' && datum.m=='p'"}],
"layer": [
{"mark": {"type": "tick", "thickness": 3, "size": 10, "opacity": 1},
 "encoding": {
  "x": {"field": "s", "type": "nominal", "scale": {"domain": ["Train","Test"], "paddingInner": 0, "paddingOuter": 0}, "title": null},
  "xOffset": {"field": "a", "type": "nominal", "scale": {"domain": ["Oracle","Constant","Lazy end","Lazy start"], "paddingInner": 0, "paddingOuter": 0.5}},
  "y": {"field": "lo", "type": "quantitative", "scale": {"domain": [0.05,1.3], "nice": false, "zero": false},
        "axis": {"title": null, "labels": false, "values": [0.1,0.2,0.3,0.4,0.5,0.6,0.7,0.8,0.9,1,1.1,1.2], "grid": true, "gridColor": {"condition": {"test": "datum.value == 1 || datum.value == 0.5", "value": "#dddddd"}, "value": "#f3f3f3"}}},
  "color": {"field": "a", "type": "nominal", "scale": {"domain": ["Oracle","Constant","Lazy end","Lazy start"], "range": ["#e41a1c","#377eb8","#4daf4a","#984ea3"]}, "title": null, "legend": {"symbolType": "circle", "labelFont": "Liberation Serif", "orient": "none", "direction": "horizontal", "legendX": 134, "legendY": 560}}}},
{"mark": {"type": "tick", "thickness": 3, "size": 10, "opacity": 1},
 "encoding": {
  "x": {"field": "s", "type": "nominal", "scale": {"domain": ["Train","Test"], "paddingInner": 0, "paddingOuter": 0}, "title": null},
  "xOffset": {"field": "a", "type": "nominal", "scale": {"domain": ["Oracle","Constant","Lazy end","Lazy start"], "paddingInner": 0, "paddingOuter": 0.5}},
  "y": {"field": "hi", "type": "quantitative", "scale": {"domain": [0.05,1.3], "nice": false, "zero": false},
        "axis": {"orient": "right", "title": null, "labels": false, "grid": false, "values": [0.1,0.2,0.3,0.4,0.5,0.6,0.7,0.8,0.9,1,1.1,1.2]}},
  "color": {"field": "a", "type": "nominal", "scale": {"domain": ["Oracle","Constant","Lazy end","Lazy start"], "range": ["#e41a1c","#377eb8","#4daf4a","#984ea3"]}, "title": null, "legend": {"symbolType": "circle", "labelFont": "Liberation Serif", "orient": "none", "direction": "horizontal", "legendX": 134, "legendY": 560}}}},
{"mark": {"type": "rule", "strokeWidth": 3},
 "encoding": {
  "x": {"field": "s", "type": "nominal", "scale": {"domain": ["Train","Test"], "paddingInner": 0, "paddingOuter": 0}, "title": null},
  "xOffset": {"field": "a", "type": "nominal", "scale": {"domain": ["Oracle","Constant","Lazy end","Lazy start"], "paddingInner": 0, "paddingOuter": 0.5}},
  "y": {"field": "lo", "type": "quantitative", "scale": {"domain": [0.05,1.3], "nice": false, "zero": false}, "axis": null},
  "y2": {"field": "hi"},
  "stroke": {"field": "a", "type": "nominal", "scale": {"domain": ["Oracle","Constant","Lazy end","Lazy start"], "range": ["#e41a1c","#377eb8","#4daf4a","#984ea3"]}, "legend": null}}},
{"mark": {"type": "bar", "width": 12, "strokeWidth": 3},
 "encoding": {
  "x": {"field": "s", "type": "nominal", "scale": {"domain": ["Train","Test"], "paddingInner": 0, "paddingOuter": 0}, "title": null},
  "xOffset": {"field": "a", "type": "nominal", "scale": {"domain": ["Oracle","Constant","Lazy end","Lazy start"], "paddingInner": 0, "paddingOuter": 0.5}},
  "y": {"field": "q1", "type": "quantitative", "scale": {"domain": [0.05,1.3], "nice": false, "zero": false}, "axis": null},
  "y2": {"field": "q3"},
  "fill": {"field": "a", "type": "nominal", "scale": {"domain": ["Oracle","Constant","Lazy end","Lazy start"], "range": ["#f4a88c","#a9bfe1","#b7dbae","#c8a7d3"]}, "legend": null},
  "stroke": {"field": "a", "type": "nominal", "scale": {"domain": ["Oracle","Constant","Lazy end","Lazy start"], "range": ["#e41a1c","#377eb8","#4daf4a","#984ea3"]}, "legend": null}}},
{"mark": {"type": "tick", "thickness": 3, "size": 12, "opacity": 1},
 "encoding": {
  "x": {"field": "s", "type": "nominal", "scale": {"domain": ["Train","Test"], "paddingInner": 0, "paddingOuter": 0}, "title": null},
  "xOffset": {"field": "a", "type": "nominal", "scale": {"domain": ["Oracle","Constant","Lazy end","Lazy start"], "paddingInner": 0, "paddingOuter": 0.5}},
  "y": {"field": "md", "type": "quantitative", "scale": {"domain": [0.05,1.3], "nice": false, "zero": false}, "axis": null},
  "color": {"field": "a", "type": "nominal", "scale": {"domain": ["Oracle","Constant","Lazy end","Lazy start"], "range": ["#e41a1c","#377eb8","#4daf4a","#984ea3"]}, "title": null, "legend": {"symbolType": "circle", "labelFont": "Liberation Serif", "orient": "none", "direction": "horizontal", "legendX": 134, "legendY": 560}}}},
{"data": {"values": [{}]},
 "mark": {"type": "rule", "strokeDash": [6,4], "color": "#222222", "strokeWidth": 1.2},
 "encoding": {"x": {"datum": "Test", "type": "nominal", "bandPosition": 0, "scale": {"domain": ["Train","Test"], "paddingInner": 0, "paddingOuter": 0}, "title": null}}},
{"data": {"name": "pvals"},
 "transform": [{"filter": "datum.ds=='Heating' && datum.m=='p'"}],
 "mark": {"type": "point", "shape": "M -1 0.28 L -0.9 0 L 0.9 0 L 1 0.28", "size": 5580, "filled": false, "stroke": "#000000", "strokeWidth": 1, "opacity": 1},
 "encoding": {
  "x": {"field": "s", "type": "nominal", "scale": {"domain": ["Train","Test"], "paddingInner": 0, "paddingOuter": 0}, "title": null},
  "y": {"datum": 1.18, "type": "quantitative", "scale": {"domain": [0.05,1.3], "nice": false, "zero": false}, "axis": null}}},
{"data": {"name": "pvals"},
 "transform": [{"filter": "datum.ds=='Heating' && datum.m=='p'"}],
 "mark": {"type": "text", "font": "Liberation Serif", "fontSize": 15, "baseline": "middle", "color": "#000000"},
 "encoding": {
  "x": {"field": "s", "type": "nominal", "scale": {"domain": ["Train","Test"], "paddingInner": 0, "paddingOuter": 0}, "title": null},
  "y": {"datum": 1.25, "type": "quantitative", "scale": {"domain": [0.05,1.3], "nice": false, "zero": false}, "axis": null},
  "text": {"field": "p", "type": "nominal"}}}
],
"resolve": {"axis": {"y": "independent"}}
},
{
"width": 249, "height": 249,
"data": {"name": "boxes"},
"transform": [{"filter": "datum.ds=='Heating' && datum.m=='n'"}],
"layer": [
{"mark": {"type": "tick", "thickness": 3, "size": 10, "opacity": 1},
 "encoding": {
  "x": {"field": "s", "type": "nominal", "scale": {"domain": ["Train","Test"], "paddingInner": 0, "paddingOuter": 0}, "title": null},
  "xOffset": {"field": "a", "type": "nominal", "scale": {"domain": ["Oracle","Constant","Lazy end","Lazy start"], "paddingInner": 0, "paddingOuter": 0.5}},
  "y": {"field": "lo", "type": "quantitative", "scale": {"domain": [0.05,1.3], "nice": false, "zero": false},
        "axis": {"title": null, "labels": false, "values": [0.1,0.2,0.3,0.4,0.5,0.6,0.7,0.8,0.9,1,1.1,1.2], "grid": true, "gridColor": {"condition": {"test": "datum.value == 1 || datum.value == 0.5", "value": "#dddddd"}, "value": "#f3f3f3"}}},
  "color": {"field": "a", "type": "nominal", "scale": {"domain": ["Oracle","Constant","Lazy end","Lazy start"], "range": ["#e41a1c","#377eb8","#4daf4a","#984ea3"]}, "title": null, "legend": {"symbolType": "circle", "labelFont": "Liberation Serif", "orient": "none", "direction": "horizontal", "legendX": 134, "legendY": 560}}}},
{"mark": {"type": "tick", "thickness": 3, "size": 10, "opacity": 1},
 "encoding": {
  "x": {"field": "s", "type": "nominal", "scale": {"domain": ["Train","Test"], "paddingInner": 0, "paddingOuter": 0}, "title": null},
  "xOffset": {"field": "a", "type": "nominal", "scale": {"domain": ["Oracle","Constant","Lazy end","Lazy start"], "paddingInner": 0, "paddingOuter": 0.5}},
  "y": {"field": "hi", "type": "quantitative", "scale": {"domain": [0.05,1.3], "nice": false, "zero": false},
        "axis": {"orient": "right", "title": "Heating", "titleAngle": 270, "titlePadding": 48, "titleFontSize": 26, "labels": false, "grid": false, "values": [0.1,0.2,0.3,0.4,0.5,0.6,0.7,0.8,0.9,1,1.1,1.2]}},
  "color": {"field": "a", "type": "nominal", "scale": {"domain": ["Oracle","Constant","Lazy end","Lazy start"], "range": ["#e41a1c","#377eb8","#4daf4a","#984ea3"]}, "title": null, "legend": {"symbolType": "circle", "labelFont": "Liberation Serif", "orient": "none", "direction": "horizontal", "legendX": 134, "legendY": 560}}}},
{"mark": {"type": "rule", "strokeWidth": 3},
 "encoding": {
  "x": {"field": "s", "type": "nominal", "scale": {"domain": ["Train","Test"], "paddingInner": 0, "paddingOuter": 0}, "title": null},
  "xOffset": {"field": "a", "type": "nominal", "scale": {"domain": ["Oracle","Constant","Lazy end","Lazy start"], "paddingInner": 0, "paddingOuter": 0.5}},
  "y": {"field": "lo", "type": "quantitative", "scale": {"domain": [0.05,1.3], "nice": false, "zero": false}, "axis": null},
  "y2": {"field": "hi"},
  "stroke": {"field": "a", "type": "nominal", "scale": {"domain": ["Oracle","Constant","Lazy end","Lazy start"], "range": ["#e41a1c","#377eb8","#4daf4a","#984ea3"]}, "legend": null}}},
{"mark": {"type": "bar", "width": 12, "strokeWidth": 3},
 "encoding": {
  "x": {"field": "s", "type": "nominal", "scale": {"domain": ["Train","Test"], "paddingInner": 0, "paddingOuter": 0}, "title": null},
  "xOffset": {"field": "a", "type": "nominal", "scale": {"domain": ["Oracle","Constant","Lazy end","Lazy start"], "paddingInner": 0, "paddingOuter": 0.5}},
  "y": {"field": "q1", "type": "quantitative", "scale": {"domain": [0.05,1.3], "nice": false, "zero": false}, "axis": null},
  "y2": {"field": "q3"},
  "fill": {"field": "a", "type": "nominal", "scale": {"domain": ["Oracle","Constant","Lazy end","Lazy start"], "range": ["#f4a88c","#a9bfe1","#b7dbae","#c8a7d3"]}, "legend": null},
  "stroke": {"field": "a", "type": "nominal", "scale": {"domain": ["Oracle","Constant","Lazy end","Lazy start"], "range": ["#e41a1c","#377eb8","#4daf4a","#984ea3"]}, "legend": null}}},
{"mark": {"type": "tick", "thickness": 3, "size": 12, "opacity": 1},
 "encoding": {
  "x": {"field": "s", "type": "nominal", "scale": {"domain": ["Train","Test"], "paddingInner": 0, "paddingOuter": 0}, "title": null},
  "xOffset": {"field": "a", "type": "nominal", "scale": {"domain": ["Oracle","Constant","Lazy end","Lazy start"], "paddingInner": 0, "paddingOuter": 0.5}},
  "y": {"field": "md", "type": "quantitative", "scale": {"domain": [0.05,1.3], "nice": false, "zero": false}, "axis": null},
  "color": {"field": "a", "type": "nominal", "scale": {"domain": ["Oracle","Constant","Lazy end","Lazy start"], "range": ["#e41a1c","#377eb8","#4daf4a","#984ea3"]}, "title": null, "legend": {"symbolType": "circle", "labelFont": "Liberation Serif", "orient": "none", "direction": "horizontal", "legendX": 134, "legendY": 560}}}},
{"data": {"values": [{}]},
 "mark": {"type": "rule", "strokeDash": [6,4], "color": "#222222", "strokeWidth": 1.2},
 "encoding": {"x": {"datum": "Test", "type": "nominal", "bandPosition": 0, "scale": {"domain": ["Train","Test"], "paddingInner": 0, "paddingOuter": 0}, "title": null}}},
{"data": {"name": "pvals"},
 "transform": [{"filter": "datum.ds=='Heating' && datum.m=='n'"}],
 "mark": {"type": "point", "shape": "M -1 0.28 L -0.9 0 L 0.9 0 L 1 0.28", "size": 5580, "filled": false, "stroke": "#000000", "strokeWidth": 1, "opacity": 1},
 "encoding": {
  "x": {"field": "s", "type": "nominal", "scale": {"domain": ["Train","Test"], "paddingInner": 0, "paddingOuter": 0}, "title": null},
  "y": {"datum": 1.18, "type": "quantitative", "scale": {"domain": [0.05,1.3], "nice": false, "zero": false}, "axis": null}}},
{"data": {"name": "pvals"},
 "transform": [{"filter": "datum.ds=='Heating' && datum.m=='n'"}],
 "mark": {"type": "text", "font": "Liberation Serif", "fontSize": 15, "baseline": "middle", "color": "#000000"},
 "encoding": {
  "x": {"field": "s", "type": "nominal", "scale": {"domain": ["Train","Test"], "paddingInner": 0, "paddingOuter": 0}, "title": null},
  "y": {"datum": 1.25, "type": "quantitative", "scale": {"domain": [0.05,1.3], "nice": false, "zero": false}, "axis": null},
  "text": {"field": "p", "type": "nominal"}}}
],
"resolve": {"axis": {"y": "independent"}}
}
],
"config": {
 "font": "Liberation Serif",
 "view": {"stroke": "#222222", "strokeWidth": 1.3},
 "axis": {"labelFont": "Liberation Serif", "titleFont": "Liberation Serif", "labelFontSize": 24, "titleFontSize": 24, "titleFontWeight": "normal", "labelColor": "#000000", "titleColor": "#000000", "labelOverlap": false},
 "axisY": {"tickSize": -7, "tickColor": "#888888", "tickWidth": 1, "domain": false},
 "axisX": {"ticks": false, "domain": false, "labelAngle": 0, "labelPadding": 6, "labelFontSize": 26, "grid": false},
 "title": {"font": "Liberation Serif", "fontSize": 24, "fontWeight": "normal", "color": "#000000", "offset": 23},
 "legend": {"labelFont": "Liberation Serif", "labelFontSize": 24, "labelColor": "#000000", "symbolSize": 100, "symbolStrokeWidth": 0, "symbolOpacity": 1, "labelOffset": 5, "columnPadding": 6}
}
}
